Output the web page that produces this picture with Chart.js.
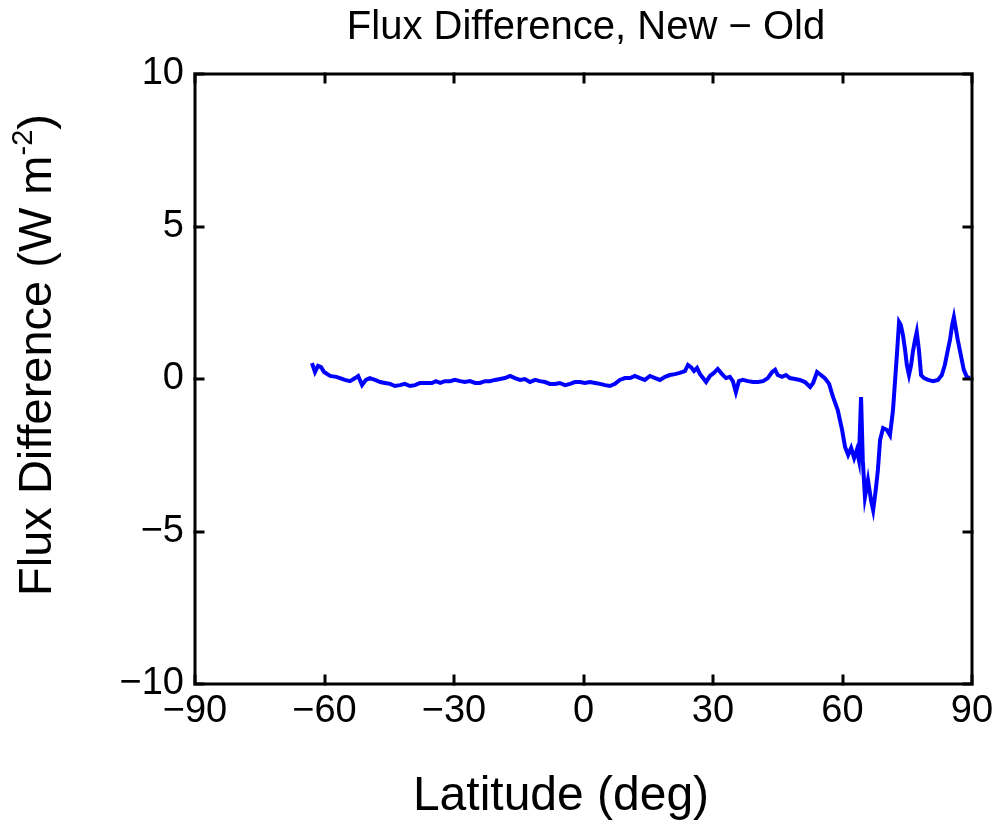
<!DOCTYPE html>
<html>
<head>
<meta charset="utf-8">
<title>Flux Difference</title>
<script src="https://cdn.jsdelivr.net/npm/chart.js@4/dist/chart.umd.min.js"></script>
<style>
  html, body { margin: 0; padding: 0; background: #fff; }
  #wrap { width: 1002px; height: 827px; }
</style>
</head>
<body>
<div id="wrap"><canvas id="chartFlux" width="1002" height="827"></canvas></div>
<script>
// zonal mean flux difference, new minus old (W m-2)
const latitude = [
  -62.9, -62.2, -61.5, -60.8, -60.1, -58.7, -57.3, -56.4, -55.3, -54.1,
  -52.9, -52.2, -51.3, -50.4, -49.5, -48.3, -47.1, -46.0, -44.8, -43.7,
  -42.5, -41.4, -40.2, -39.0, -37.9, -36.5, -35.1, -34.2, -33.2, -32.1,
  -30.9, -29.8, -28.6, -27.5, -26.3, -25.1, -24.0, -22.8, -21.7, -20.5,
  -19.3, -18.2, -17.0, -15.9, -14.7, -13.6, -12.4, -11.2, -10.1, -8.9,
  -7.8, -6.6, -5.5, -4.3, -3.1, -2.0, -0.8, 0.3, 1.5, 2.7,
  3.8, 5.0, 6.1, 7.3, 8.4, 9.6, 10.8, 11.9, 13.1, 14.2,
  15.4, 16.6, 17.7, 18.9, 20.0, 21.2, 22.3, 23.5, 24.2, 24.9,
  25.6, 26.3, 27.0, 27.7, 28.4, 29.3, 30.2, 31.1, 32.1, 33.0,
  33.9, 34.6, 35.3, 36.0, 36.9, 38.1, 39.3, 40.4, 41.6, 42.7,
  43.7, 44.4, 45.0, 46.0, 46.9, 47.8, 49.0, 50.1, 51.3, 52.5,
  53.2, 54.1, 55.0, 55.9, 56.9, 57.8, 58.9, 59.9, 60.6, 61.3,
  62.0, 62.7, 63.3, 63.8, 64.3, 64.7, 65.2, 65.9, 66.6, 67.1,
  67.7, 68.2, 68.7, 69.4, 70.3, 71.0, 71.7, 72.1, 72.6, 73.1,
  73.5, 74.0, 74.5, 74.9, 75.4, 75.9, 76.3, 76.8, 77.2, 77.7,
  78.2, 78.9, 79.8, 81.0, 82.1, 83.0, 83.7, 84.4, 84.9, 85.4,
  85.8, 86.3, 86.7, 87.4, 88.1, 88.8, 89.5
];

const fluxDiff = [
  0.52, 0.23, 0.43, 0.39, 0.23, 0.10, 0.07, 0.03, -0.03, -0.07,
  0.03, 0.10, -0.20, -0.03, 0.03, -0.03, -0.10, -0.13, -0.16, -0.23,
  -0.20, -0.16, -0.23, -0.20, -0.13, -0.13, -0.13, -0.07, -0.13, -0.07,
  -0.07, -0.03, -0.07, -0.10, -0.07, -0.13, -0.13, -0.07, -0.07, -0.03,
  0.00, 0.03, 0.10, 0.03, -0.03, 0.00, -0.10, -0.03, -0.07, -0.10,
  -0.16, -0.16, -0.13, -0.20, -0.16, -0.10, -0.10, -0.13, -0.10, -0.13,
  -0.16, -0.20, -0.23, -0.16, -0.03, 0.03, 0.03, 0.10, 0.03, -0.03,
  0.10, 0.03, -0.03, 0.07, 0.13, 0.16, 0.20, 0.26, 0.46, 0.39,
  0.26, 0.36, 0.16, 0.03, -0.10, 0.10, 0.20, 0.33, 0.16, 0.03,
  0.07, -0.07, -0.43, -0.07, -0.03, -0.07, -0.10, -0.10, -0.07, 0.03,
  0.23, 0.30, 0.13, 0.07, 0.13, 0.03, 0.00, -0.03, -0.10, -0.26,
  -0.13, 0.23, 0.13, 0.03, -0.16, -0.59, -1.02, -1.67, -2.23, -2.49,
  -2.26, -2.59, -2.33, -2.66, -0.59, -2.66, -3.87, -3.31, -3.97, -4.30,
  -3.64, -2.98, -2.00, -1.61, -1.67, -1.84, -1.02, -0.20, 0.79, 1.87,
  1.77, 1.44, 0.95, 0.46, 0.13, 0.46, 0.89, 1.28, 1.54, 0.95,
  0.13, 0.03, -0.03, -0.07, -0.03, 0.13, 0.46, 0.95, 1.28, 1.77,
  2.03, 1.61, 1.28, 0.79, 0.30, 0.07, 0.03
];

const xTicks = [-90, -60, -30, 0, 30, 60, 90];
const yTicks = [-10, -5, 0, 5, 10];

const FONT = '"Liberation Sans", Arial, Helvetica, sans-serif';

function fmtTick(v) {
  return v < 0 ? '\u2212' + Math.abs(v) : String(v);
}

// box around the axes with inward tick marks on all four sides
const boxPlugin = {
  id: 'boxPlugin',
  afterDraw(chart) {
    const { ctx, chartArea: a, scales } = chart;
    const len = 8;
    ctx.save();
    ctx.strokeStyle = '#000';
    ctx.lineWidth = 3;
    ctx.lineCap = 'square';
    ctx.beginPath();
    xTicks.forEach(v => {
      const px = Math.round(scales.x.getPixelForValue(v));
      ctx.moveTo(px, a.bottom); ctx.lineTo(px, a.bottom - len);
      ctx.moveTo(px, a.top); ctx.lineTo(px, a.top + len);
    });
    yTicks.forEach(v => {
      const py = Math.round(scales.y.getPixelForValue(v));
      ctx.moveTo(a.left, py); ctx.lineTo(a.left + len, py);
      ctx.moveTo(a.right, py); ctx.lineTo(a.right - len, py);
    });
    ctx.stroke();
    ctx.lineCap = 'butt';
    ctx.strokeRect(a.left, a.top, a.right - a.left, a.bottom - a.top);
    ctx.restore();
  }
};

// title and axis labels (y label needs a superscript)
const labelPlugin = {
  id: 'labelPlugin',
  afterDraw(chart) {
    const { ctx, chartArea: a } = chart;
    ctx.save();
    ctx.fillStyle = '#000';
    ctx.textBaseline = 'middle';
    ctx.textAlign = 'center';

    ctx.font = '40px ' + FONT;
    ctx.fillText('Flux Difference, New \u2212 Old', 586, 28);

    ctx.font = '48px ' + FONT;
    ctx.fillText('Latitude (deg)', 561, 797);

    // rotated y label
    const main = 'Flux Difference (W m';
    const sup = '-2';
    const tail = ')';
    ctx.translate(38, 355);
    ctx.rotate(-Math.PI / 2);
    ctx.textAlign = 'left';
    ctx.font = '47px ' + FONT;
    const wMain = ctx.measureText(main).width;
    const wTail = ctx.measureText(tail).width;
    ctx.font = '29px ' + FONT;
    const wSup = ctx.measureText(sup).width;
    const total = wMain + wSup + wTail;
    let x = -total / 2;
    ctx.font = '47px ' + FONT;
    ctx.fillText(main, x, 0);
    x += wMain;
    ctx.font = '29px ' + FONT;
    ctx.fillText(sup, x, -14);
    x += wSup;
    ctx.font = '47px ' + FONT;
    ctx.fillText(tail, x, 0);
    ctx.restore();
  }
};

function drawChart() {
  const ctx = document.getElementById('chartFlux');
  const points = latitude.map((lat, i) => ({ x: lat, y: fluxDiff[i] }));

  new Chart(ctx, {
    type: 'line',
    data: {
      datasets: [
        {
          label: 'Flux Difference',
          data: points,
          borderColor: '#0000ff',
          borderWidth: 4,
          pointRadius: 0,
          tension: 0,
          fill: false
        }
      ]
    },
    options: {
      responsive: false,
      animation: false,
      layout: { padding: { top: 74, right: 30, left: 0, bottom: 0 } },
      plugins: {
        legend: { display: false },
        tooltip: { enabled: false },
        title: { display: false }
      },
      scales: {
        x: {
          type: 'linear',
          min: -90,
          max: 90,
          afterFit(scale) { scale.height = 143; },
          afterBuildTicks(scale) { scale.ticks = xTicks.map(v => ({ value: v })); },
          grid: { display: false, drawTicks: false },
          border: { display: false },
          ticks: {
            color: '#000',
            padding: 5,
            maxRotation: 0,
            font: { family: FONT, size: 38 },
            callback: v => fmtTick(v)
          }
        },
        y: {
          type: 'linear',
          min: -10,
          max: 10,
          afterFit(scale) { scale.width = 195; },
          afterBuildTicks(scale) { scale.ticks = yTicks.map(v => ({ value: v })); },
          grid: { display: false, drawTicks: false },
          border: { display: false },
          ticks: {
            color: '#000',
            padding: 11,
            font: { family: FONT, size: 38 },
            callback: v => fmtTick(v)
          }
        }
      }
    },
    plugins: [boxPlugin, labelPlugin]
  });
}

document.addEventListener('DOMContentLoaded', drawChart);
</script>
</body>
</html>
